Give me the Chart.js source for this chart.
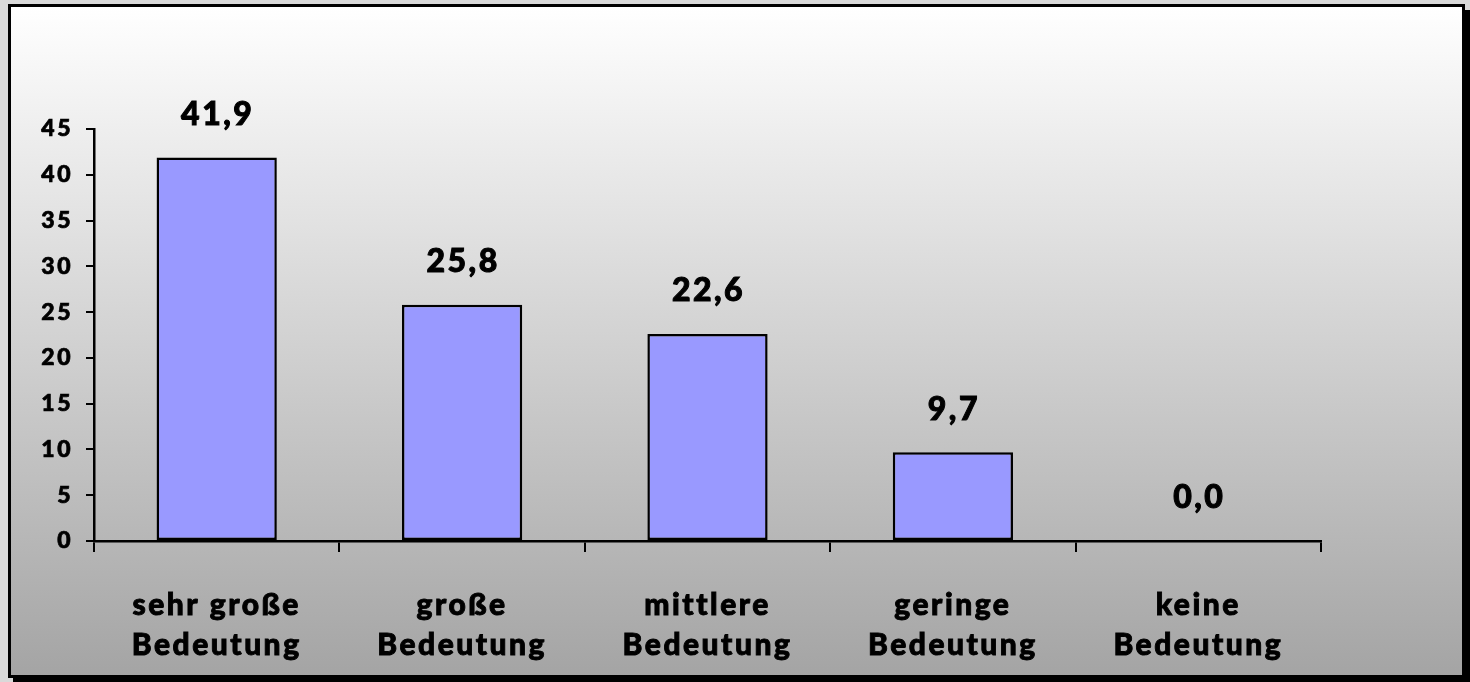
<!DOCTYPE html>
<html>
<head>
<meta charset="utf-8">
<script src="https://cdn.jsdelivr.net/npm/chart.js@4"></script>
<style>
  html, body { margin: 0; padding: 0; background: #d9d9d9; }
  #wrap { width: 1470px; height: 682px; }
</style>
</head>
<body>
<div id="wrap"><canvas id="chart" width="1470" height="682"></canvas></div>
<script>
// ========== DATA ==========
const categories = [
    ['sehr große', 'Bedeutung'],
    ['große', 'Bedeutung'],
    ['mittlere', 'Bedeutung'],
    ['geringe', 'Bedeutung'],
    ['keine', 'Bedeutung']
];
const values = [41.9, 25.8, 22.6, 9.7, 0.0];
const yMax = 45;
const yStep = 5;

const FONT = 'Lato, "DejaVu Sans", sans-serif';

// frame + gradient background
const framePlugin = {
    id: 'frame',
    beforeDraw(chart) {
        const ctx = chart.ctx;
        ctx.save();
        ctx.fillStyle = '#d9d9d9';
        ctx.fillRect(0, 0, 1470, 682);
        ctx.fillStyle = '#000';
        ctx.fillRect(13, 10, 1457, 672);
        const g = ctx.createLinearGradient(0, 6, 0, 677);
        g.addColorStop(0, '#ffffff');
        g.addColorStop(1, '#a4a4a4');
        ctx.fillStyle = g;
        ctx.fillRect(9, 5, 1455, 672);
        ctx.strokeStyle = '#000';
        ctx.lineWidth = 3;
        ctx.strokeRect(9.5, 5.5, 1454, 671);
        ctx.restore();
        ctx.letterSpacing = '2.5px';
    }
};

// value labels above bars
const valueLabels = {
    id: 'valueLabels',
    afterDatasetsDraw(chart) {
        const ctx = chart.ctx;
        const meta = chart.getDatasetMeta(0);
        ctx.save();
        ctx.font = '900 32px ' + FONT;
        ctx.letterSpacing = '2.5px';
        ctx.fillStyle = '#000';
        ctx.strokeStyle = '#000';
        ctx.lineWidth = 1;
        ctx.textAlign = 'center';
        ctx.textBaseline = 'middle';
        meta.data.forEach((bar, i) => {
            const txt = values[i].toFixed(1).replace('.', ',');
            ctx.fillText(txt, bar.x + 1, bar.y - 43);
            ctx.strokeText(txt, bar.x + 1, bar.y - 43);
        });
        ctx.restore();
    }
};

new Chart(document.getElementById('chart').getContext('2d'), {
    type: 'bar',
    data: {
        labels: categories,
        datasets: [{
            data: values,
            backgroundColor: '#9999ff',
            borderColor: '#000',
            borderWidth: 2.5,
            borderSkipped: false,
            barPercentage: 0.49,
            categoryPercentage: 1.0
        }]
    },
    options: {
        responsive: false,
        animation: false,
        devicePixelRatio: 1,
        layout: { padding: { top: 129, right: 149, left: 0, bottom: 0 } },
        plugins: { legend: { display: false }, tooltip: { enabled: false } },
        scales: {
            x: {
                afterFit: (s) => { s.height = 141; },
                grid: { display: true, offset: true, drawOnChartArea: false, drawTicks: true, tickLength: 11, color: '#000', lineWidth: 2 },
                border: { display: true, color: '#000', width: 2.5 },
                ticks: {
                    color: '#000', textStrokeColor: '#000', textStrokeWidth: 0.9,
                    font: { family: FONT, size: 30, weight: '900', lineHeight: 1.33 },
                    padding: 33, maxRotation: 0, autoSkip: false
                }
            },
            y: {
                min: 0,
                max: yMax,
                afterFit: (s) => { s.width = 94; },
                grid: { display: true, drawOnChartArea: false, drawTicks: true, tickLength: 8, color: '#000', lineWidth: 2 },
                border: { display: true, color: '#000', width: 2.5 },
                ticks: {
                    stepSize: yStep, color: '#000', textStrokeColor: '#000', textStrokeWidth: 0.7,
                    font: { family: FONT, size: 23, weight: '900' }, padding: 13
                }
            }
        }
    },
    plugins: [framePlugin, valueLabels]
});
</script>
</body>
</html>
